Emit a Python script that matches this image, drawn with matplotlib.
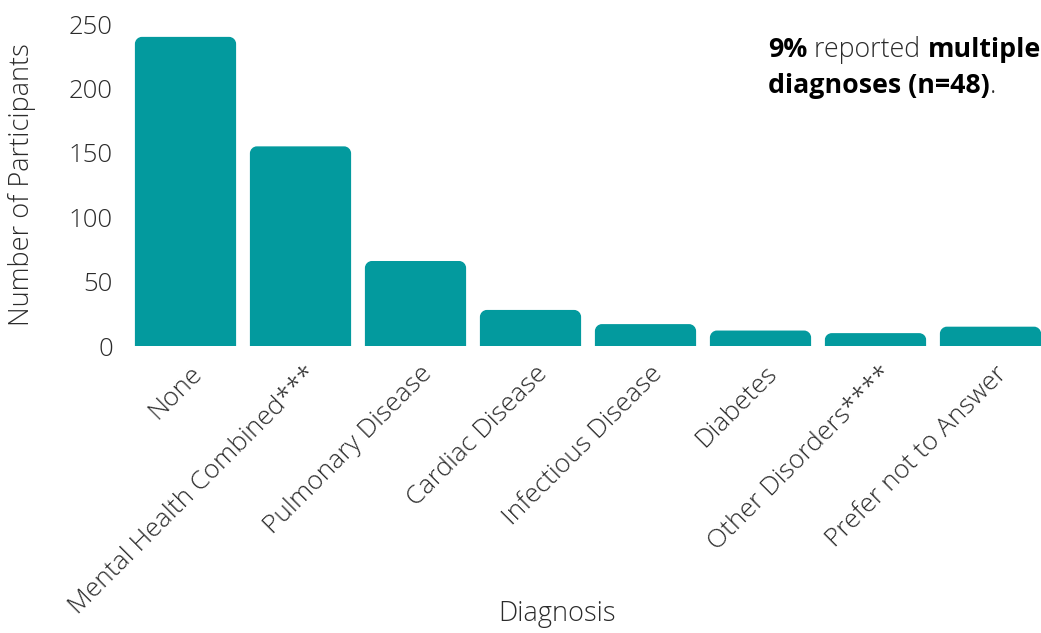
import matplotlib
matplotlib.use("Agg")
import matplotlib.pyplot as plt
from matplotlib.path import Path
from matplotlib.patches import PathPatch
from matplotlib.transforms import ScaledTranslation

categories = ["None", "Mental Health Combined***", "Pulmonary Disease", "Cardiac Disease",
              "Infectious Disease", "Diabetes", "Other Disorders****", "Prefer not to Answer"]
values = [240, 155, 66, 28, 17, 12, 10, 15]
yticks = [0, 50, 100, 150, 200, 250]

BAR = "#039a9e"
TXT = "#2b2b2b"
FONT = "Open Sans"

plt.rcParams['font.family'] = [FONT, 'DejaVu Sans']

W, H = 1041, 633
fig = plt.figure(figsize=(W / 100, H / 100), dpi=100)
ax = fig.add_axes([128 / W, (H - 346) / H, 920 / W, 322 / H])

bars = ax.bar(range(len(categories)), values, width=0.88, color=BAR)
ax.set_xlim(-0.5, len(categories) - 0.5)
ax.set_ylim(0, 250)

# round the top corners of each bar (radius in pixels converted through the axes scale)
fig.canvas.draw()
r_px = 7
inv = ax.transData.inverted()
p0 = inv.transform((0, 0))
p1 = inv.transform((r_px, r_px))
rx, ry = p1[0] - p0[0], p1[1] - p0[1]
for b in bars:
    x0, w, h = b.get_x(), b.get_width(), b.get_height()
    x1 = x0 + w
    ryy = min(ry, h / 2)
    k = 0.55
    verts = [(x0, 0), (x0, h - ryy),
             (x0, h - ryy + k * ryy), (x0 + rx - k * rx, h), (x0 + rx, h),
             (x1 - rx, h),
             (x1 - rx + k * rx, h), (x1, h - ryy + k * ryy), (x1, h - ryy),
             (x1, 0), (x0, 0)]
    codes = [Path.MOVETO, Path.LINETO,
             Path.CURVE4, Path.CURVE4, Path.CURVE4,
             Path.LINETO,
             Path.CURVE4, Path.CURVE4, Path.CURVE4,
             Path.LINETO, Path.CLOSEPOLY]
    patch = PathPatch(Path(verts, codes), facecolor=BAR, edgecolor='none')
    b.set_visible(False)
    ax.add_patch(patch)

for s in ax.spines.values():
    s.set_visible(False)
ax.set_yticks(yticks)
ax.set_yticklabels([str(t) for t in yticks])
ax.tick_params(axis='y', length=0, labelsize=18.5, colors=TXT, pad=11)
ax.set_xticks(range(len(categories)))
ax.set_xticklabels(categories, rotation=45, ha='right', rotation_mode='anchor',
                   fontweight='light', fontsize=19, color=TXT)
ax.tick_params(axis='x', length=0, pad=11)
shift = ScaledTranslation(4 / 100, 0, fig.dpi_scale_trans)
for lab in ax.get_xticklabels():
    lab.set_transform(lab.get_transform() + shift)
for lab in ax.get_yticklabels():
    lab.set_fontweight('light')

ax.set_ylabel("Number of Participants", fontsize=19.5, color=TXT, fontweight='light', va='center')
ax.yaxis.set_label_coords((22 - 128) / 920, 0.5)
ax.set_xlabel("Diagnosis", fontsize=19.5, color=TXT, fontweight='light', va='center')
ax.xaxis.set_label_coords((557 - 128) / 920, (346 - 614) / 322)

# annotation with mixed weights
fig.canvas.draw()
renderer = fig.canvas.get_renderer()
def run(parts, x_px, y_px):
    x = x_px
    for txt, wt in parts:
        t = fig.text(x / W, 1 - y_px / H, txt, fontsize=19.3, fontweight=wt,
                     color='black' if wt == 'bold' else TXT, ha='left', va='baseline')
        bb = t.get_window_extent(renderer)
        x += bb.width

run([("9%", "bold"), (" reported ", "light"), ("multiple", "bold")], 768, 57)
run([("diagnoses (n=48)", "bold"), (".", "light")], 768, 93)

fig.savefig("out.png", dpi=100)
